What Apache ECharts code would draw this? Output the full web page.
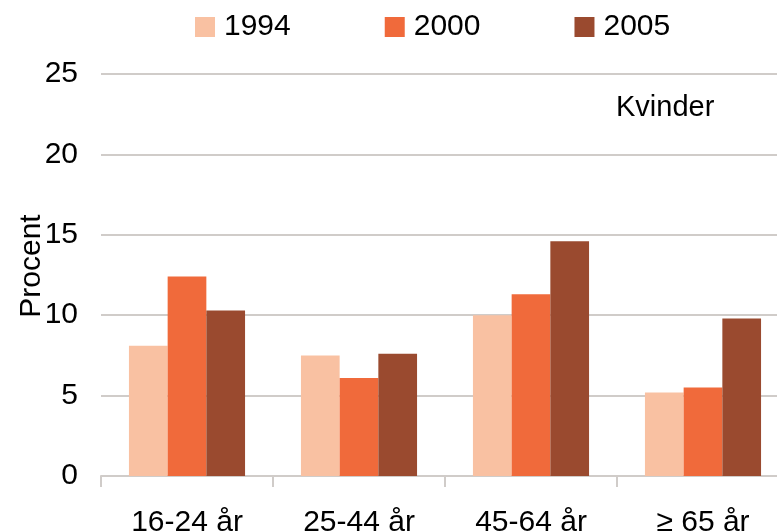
<!DOCTYPE html>
<html>
<head>
<meta charset="utf-8">
<script src="https://cdn.jsdelivr.net/npm/echarts@6/dist/echarts.min.js"></script>
<style>html,body{margin:0;padding:0;background:#fff}#c{width:777px;height:532px}</style>
</head>
<body>
<div id="c"></div>
<script>
const categories = ['16-24 år', '25-44 år', '45-64 år', '≥ 65 år'];
const seriesNames = ['1994', '2000', '2005'];
const values1994 = [8.1, 7.5, 10.0, 5.2];
const values2000 = [12.4, 6.1, 11.3, 5.5];
const values2005 = [10.3, 7.6, 14.6, 9.8];
const colors = ['#F9C1A2', '#F06A3B', '#9A4A2F'];
const FONT = 'Liberation Sans, Arial, sans-serif';

const chart = echarts.init(document.getElementById('c'));
const allValues = [values1994, values2000, values2005];
chart.setOption({
  animation: false,
  textStyle: { fontFamily: FONT, color: '#000' },
  title: {
    text: 'Kvinder', left: 611, top: 88,
    textStyle: { fontFamily: FONT, fontSize: 29, fontWeight: 'normal', color: '#000' }
  },
  legend: {
    data: seriesNames, left: 195, top: 12, padding: 0,
    itemWidth: 20, itemHeight: 20, itemGap: 94, icon: 'rect',
    textStyle: { fontFamily: FONT, fontSize: 30, color: '#000', padding: [0, 0, 0, 4] }
  },
  grid: { left: 101, width: 688, top: 74, bottom: 56, containLabel: false, outerBoundsMode: 'none' },
  xAxis: {
    type: 'category', data: categories,
    axisLine: { show: true, lineStyle: { color: '#D0CCC9', width: 2 } },
    axisTick: { show: true, length: 11, lineStyle: { color: '#D0CCC9', width: 2 } },
    axisLabel: { fontFamily: FONT, fontSize: 30, color: '#000', margin: 32 }
  },
  yAxis: {
    type: 'value', min: 0, max: 25, interval: 5,
    name: 'Procent', nameLocation: 'middle', nameRotate: 90, nameGap: 54,
    nameMoveOverlap: false,
    nameTextStyle: { fontFamily: FONT, fontSize: 30, color: '#000', padding: [0, 0, 0, 18] },
    axisLine: { show: false }, axisTick: { show: false },
    splitLine: { lineStyle: { color: '#D0CCC9', width: 2 } },
    axisLabel: { fontFamily: FONT, fontSize: 30, color: '#000', margin: 23 }
  },
  series: seriesNames.map((n, i) => ({
    name: n, type: 'bar', data: allValues[i],
    barGap: '0%', barCategoryGap: '32.5%',
    itemStyle: { color: colors[i] }
  }))
});
</script>
</body>
</html>
